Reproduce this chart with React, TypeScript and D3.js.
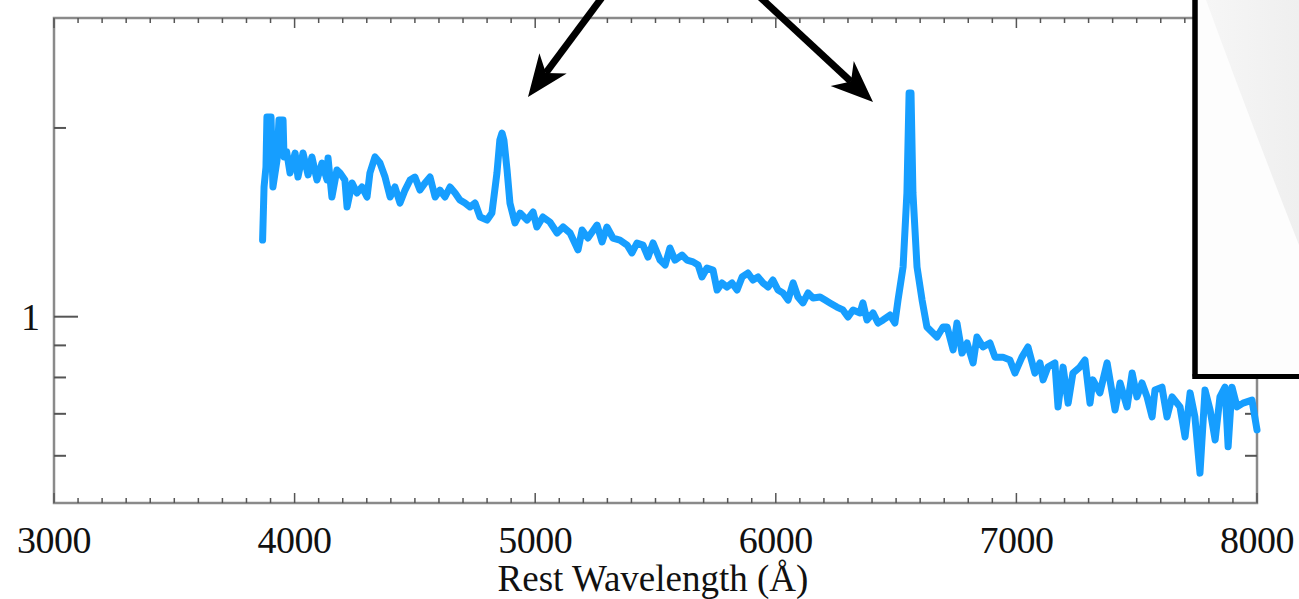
import React from "react";
import * as d3 from "d3";

// Rest wavelength (Å) and relative flux
const wavelength = [
  3867, 3873, 3881, 3885, 3902, 3910, 3927, 3935, 3952, 3956, 3967, 3981, 4002, 4014, 4035, 4056, 4072, 4093, 4114, 4135,
  4139, 4155, 4176, 4189, 4209, 4218, 4239, 4259, 4280, 4301, 4313, 4334, 4355, 4376, 4397, 4417, 4438, 4459, 4480, 4500,
  4521, 4542, 4563, 4584, 4604, 4625, 4646, 4667, 4687, 4708, 4729, 4750, 4771, 4800, 4820, 4841, 4853, 4862, 4870, 4883,
  4895, 4916, 4937, 4966, 4991, 5007, 5032, 5061, 5091, 5116, 5145, 5178, 5195, 5219, 5257, 5278, 5298, 5323, 5352, 5382,
  5402, 5423, 5448, 5469, 5490, 5519, 5540, 5560, 5581, 5610, 5631, 5656, 5677, 5693, 5714, 5739, 5756, 5776, 5797, 5818,
  5839, 5860, 5884, 5905, 5926, 5947, 5968, 5988, 6009, 6030, 6051, 6072, 6092, 6113, 6134, 6155, 6184, 6205, 6225, 6254,
  6279, 6300, 6321, 6350, 6362, 6379, 6404, 6425, 6446, 6475, 6495, 6508, 6529, 6545, 6554, 6562, 6570, 6587, 6608, 6628,
  6670, 6695, 6712, 6737, 6753, 6774, 6795, 6820, 6836, 6861, 6890, 6911, 6944, 6973, 6994, 7023, 7048, 7077, 7098, 7111,
  7131, 7160, 7173, 7194, 7215, 7235, 7264, 7285, 7306, 7318, 7347, 7377, 7410, 7431, 7460, 7481, 7501, 7522, 7543, 7564,
  7576, 7605, 7626, 7647, 7680, 7701, 7722, 7742, 7763, 7784, 7805, 7826, 7846, 7867, 7880, 7896, 7917, 7942, 7979, 8000,
];
const flux = [
  1.325, 1.61, 1.733, 2.082, 2.082, 1.61, 1.778, 2.059, 2.059, 1.798, 1.833, 1.695, 1.824, 1.67, 1.824, 1.683, 1.798, 1.652, 1.758, 1.652,
  1.791, 1.552, 1.714, 1.695, 1.652, 1.496, 1.634, 1.575, 1.61, 1.552, 1.695, 1.798, 1.758, 1.67, 1.552, 1.61, 1.518, 1.592, 1.652, 1.67,
  1.592, 1.634, 1.67, 1.552, 1.592, 1.552, 1.61, 1.575, 1.535, 1.518, 1.496, 1.518, 1.442, 1.426, 1.463, 1.695, 1.913, 1.963, 1.913, 1.714,
  1.518, 1.411, 1.463, 1.426, 1.469, 1.39, 1.442, 1.416, 1.36, 1.39, 1.36, 1.278, 1.375, 1.335, 1.4, 1.316, 1.39, 1.335, 1.325, 1.301,
  1.264, 1.311, 1.301, 1.245, 1.311, 1.231, 1.209, 1.287, 1.231, 1.254, 1.231, 1.223, 1.209, 1.157, 1.196, 1.187, 1.103, 1.132, 1.115, 1.132,
  1.103, 1.157, 1.174, 1.144, 1.157, 1.132, 1.115, 1.144, 1.103, 1.091, 1.063, 1.132, 1.075, 1.052, 1.091, 1.071, 1.075, 1.063, 1.052, 1.036,
  1.025, 0.999, 1.025, 1.014, 1.052, 0.988, 1.014, 0.977, 0.988, 1.006, 0.977, 1.063, 1.2, 1.575, 2.274, 2.274, 1.575, 1.2, 1.063, 0.963,
  0.928, 0.963, 0.963, 0.885, 0.977, 0.875, 0.908, 0.844, 0.928, 0.895, 0.908, 0.862, 0.862, 0.853, 0.813, 0.862, 0.895, 0.813, 0.844, 0.793,
  0.831, 0.844, 0.718, 0.831, 0.728, 0.813, 0.831, 0.853, 0.728, 0.793, 0.756, 0.844, 0.71, 0.784, 0.718, 0.813, 0.745, 0.784, 0.745, 0.692,
  0.764, 0.772, 0.692, 0.745, 0.718, 0.643, 0.756, 0.692, 0.563, 0.764, 0.71, 0.636, 0.745, 0.772, 0.62, 0.772, 0.718, 0.728, 0.736, 0.66,
];

const xMajorTicks = [3000, 4000, 5000, 6000, 7000, 8000];
const xMinorTicks = d3.range(3000, 8001, 100);
const yMajorTicks = [1];
const yMinorTicks = [0.6, 0.7, 0.8, 0.9, 2];
const xLabel = "Rest Wavelength (Å)";

const W = 1299;
const H = 599;
const left = 54;
const right = 1257;
const top = 18;
const bottom = 503;

export default function App() {
  const x = d3.scaleLinear().domain([3000, 8000]).range([left, right]);
  const y = d3.scaleLog().domain([0.5045, 2.995]).range([bottom, top]);
  const pts = wavelength.map((w, i) => [w, flux[i]] as [number, number]);
  const line = d3
    .line<[number, number]>()
    .x((d) => x(d[0]))
    .y((d) => y(d[1]));

  const axisColor = "#8a8a8a";
  const tickColor = "#555";
  const font = "'Liberation Serif', 'Times New Roman', serif";

  // arrows (annotation)
  const arrow = (x0: number, y0: number, tx: number, ty: number) => {
    const dx = tx - x0;
    const dy = ty - y0;
    const len = Math.hypot(dx, dy);
    const ux = dx / len;
    const uy = dy / len;
    const px = -uy;
    const py = ux;
    const headLen = 42;
    const headW = 17;
    const notch = 30;
    const bx = tx - ux * headLen;
    const by = ty - uy * headLen;
    const nx = tx - ux * notch;
    const ny = ty - uy * notch;
    const poly = `M${tx},${ty} L${bx + px * headW},${by + py * headW} L${nx},${ny} L${bx - px * headW},${by - py * headW} Z`;
    return (
      <g>
        <line x1={x0} y1={y0} x2={nx} y2={ny} stroke="#000" strokeWidth={7} />
        <path d={poly} fill="#000" />
      </g>
    );
  };

  return (
    <svg width={W} height={H} style={{ position: "absolute", left: 0, top: 0, background: "#fff" }}>
      <defs>
        <linearGradient id="boxShade" x1="0" y1="0" x2="1" y2="0">
          <stop offset="0" stopColor="#f6f6f6" />
          <stop offset="1" stopColor="#efefef" />
        </linearGradient>
      </defs>
      <rect x={0} y={0} width={W} height={H} fill="#fff" />
      {/* frame */}
      <rect x={left} y={top} width={right - left} height={bottom - top} fill="none" stroke={axisColor} strokeWidth={2.5} />
      {/* x ticks */}
      {xMinorTicks.map((t) => {
        const major = xMajorTicks.includes(t);
        const l = major ? 10 : 5;
        return (
          <g key={"xt" + t}>
            <line x1={x(t)} x2={x(t)} y1={bottom} y2={bottom - l} stroke={tickColor} strokeWidth={1.5} />
            <line x1={x(t)} x2={x(t)} y1={top} y2={top + l} stroke={tickColor} strokeWidth={1.5} />
          </g>
        );
      })}
      {/* y ticks */}
      {[...yMajorTicks, ...yMinorTicks].map((t) => {
        const l = yMajorTicks.includes(t) ? 24 : 12;
        return (
          <g key={"yt" + t}>
            <line x1={left} x2={left + l} y1={y(t)} y2={y(t)} stroke={tickColor} strokeWidth={2} />
            <line x1={right} x2={right - l} y1={y(t)} y2={y(t)} stroke={tickColor} strokeWidth={2} />
          </g>
        );
      })}
      {/* x labels */}
      {xMajorTicks.map((t) => (
        <text key={"xl" + t} x={x(t)} y={553} textAnchor="middle" fontFamily={font} fontSize={38} letterSpacing={-0.5} fill="#111">
          {t}
        </text>
      ))}
      {yMajorTicks.map((t) => (
        <text key={"yl" + t} x={40} y={y(t) + 13} textAnchor="end" fontFamily={font} fontSize={38} fill="#111">
          {t}
        </text>
      ))}
      <text x={653} y={591} textAnchor="middle" fontFamily={font} fontSize={37} fill="#111">
        {xLabel}
      </text>
      {/* spectrum */}
      <path d={line(pts) || ""} fill="none" stroke="#169eff" strokeWidth={7} strokeLinejoin="round" strokeLinecap="round" />
      {/* arrows */}
      {arrow(612, -16, 528, 97)}
      {arrow(748, -14, 873, 102)}
      {/* inset box at right */}
      <g>
        <rect x={1195} y={-10} width={120} height={386.5} fill="#fdfdfd" stroke="#000" strokeWidth={5} />
        <path d="M1206,0 Q1248,115 1299,245 L1299,0 Z" fill="url(#boxShade)" />
        <line x1={1195} y1={-10} x2={1195} y2={376.5} stroke="#000" strokeWidth={5} />
        <line x1={1192.5} y1={376.5} x2={1299} y2={376.5} stroke="#000" strokeWidth={5} />
      </g>
    </svg>
  );
}
